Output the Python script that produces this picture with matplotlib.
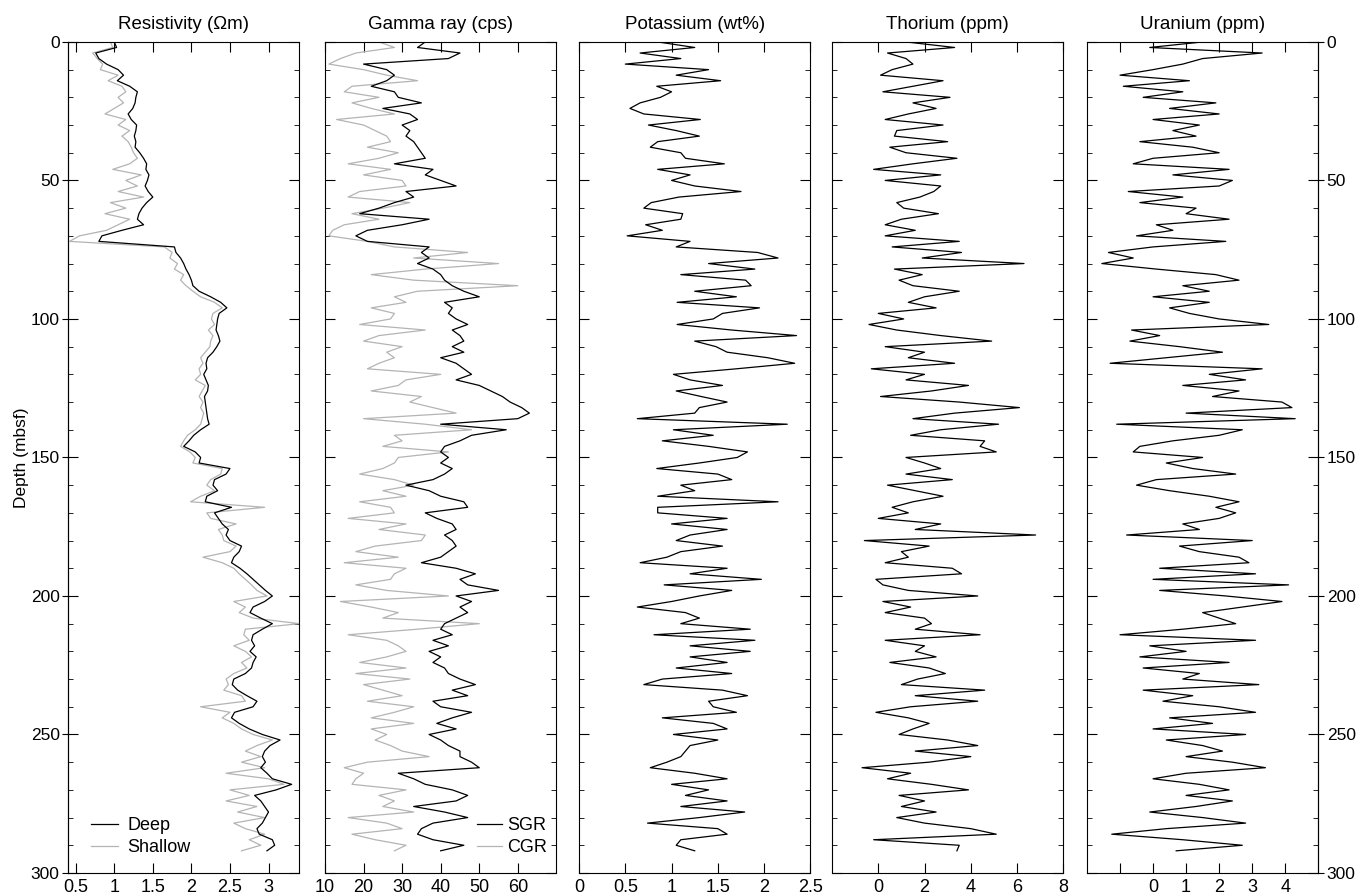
"""
Downhole log panels: resistivity, gamma ray and spectral gamma (K, Th, U)
plotted against depth, one narrow panel per log.
"""

import numpy as np
import matplotlib
matplotlib.use("Agg")
import matplotlib.pyplot as plt
from matplotlib.ticker import MultipleLocator, NullLocator, FixedLocator

plt.rcParams['font.family'] = ['Liberation Sans', 'DejaVu Sans']
plt.rcParams['font.size'] = 13

# Depth grid of the readings (mbsf), one value every 2 m
depth = np.arange(0, 293, 2)

# Resistivity (ohm m)
res_deep = [
    1.00, 1.03, 0.76, 0.80, 0.90, 1.05, 1.12, 1.04, 1.20, 1.30,
    1.28, 1.27, 1.24, 1.18, 1.22, 1.29, 1.28, 1.26, 1.28, 1.27,
    1.33, 1.38, 1.42, 1.41, 1.45, 1.43, 1.40, 1.44, 1.50, 1.42,
    1.36, 1.32, 1.30, 1.38, 1.10, 0.84, 0.80, 1.78, 1.80, 1.86,
    1.90, 1.93, 1.97, 2.00, 2.02, 2.10, 2.25, 2.38, 2.46, 2.36,
    2.34, 2.33, 2.32, 2.35, 2.37, 2.33, 2.28, 2.21, 2.19, 2.20,
    2.16, 2.19, 2.22, 2.21, 2.17, 2.18, 2.19, 2.20, 2.21, 2.23,
    2.12, 2.03, 1.97, 1.90, 2.05, 2.12, 2.10, 2.50, 2.45, 2.30,
    2.28, 2.34, 2.20, 2.18, 2.52, 2.30, 2.35, 2.40, 2.48, 2.45,
    2.50, 2.65, 2.62, 2.55, 2.52, 2.63, 2.72, 2.80, 2.88, 2.96,
    3.05, 2.95, 2.80, 2.76, 2.90, 3.05, 2.92, 2.80, 2.78, 2.82,
    2.76, 2.84, 2.80, 2.78, 2.70, 2.55, 2.53, 2.60, 2.72, 2.85,
    2.80, 2.56, 2.52, 2.62, 2.75, 2.92, 3.15, 3.02, 2.95, 2.92,
    2.96, 2.90, 2.98, 3.05, 3.30, 3.10, 2.82, 2.90, 2.95, 3.00,
    2.96, 2.92, 2.85, 2.88, 3.05, 3.08, 2.98,
]
res_shallow = [
    0.95, 0.98, 0.72, 0.78, 0.85, 0.82, 1.05, 0.92, 1.10, 1.15,
    1.05, 1.12, 1.00, 0.88, 1.15, 1.05, 1.20, 1.10, 1.18, 1.22,
    1.25, 1.30, 1.20, 0.98, 1.35, 1.15, 1.30, 1.05, 1.38, 0.95,
    1.15, 0.88, 1.20, 1.05, 0.90, 0.55, 0.42, 1.65, 1.75, 1.72,
    1.82, 1.78, 1.90, 1.86, 1.93, 2.02, 2.12, 2.30, 2.40, 2.28,
    2.26, 2.30, 2.22, 2.28, 2.25, 2.24, 2.18, 2.12, 2.15, 2.10,
    2.12, 2.05, 2.18, 2.14, 2.10, 2.15, 2.12, 2.16, 2.14, 2.12,
    2.05, 1.95, 1.90, 1.86, 1.98, 2.05, 2.02, 2.40, 2.38, 2.25,
    2.20, 2.30, 2.12, 1.99, 2.95, 2.20, 2.25, 2.58, 2.35, 2.40,
    2.42, 2.58, 2.50, 2.15, 2.40, 2.55, 2.62, 2.70, 2.78, 2.85,
    2.98, 2.55, 2.70, 2.62, 2.80, 3.40, 2.70, 2.68, 2.75, 2.55,
    2.70, 2.78, 2.65, 2.72, 2.55, 2.45, 2.48, 2.42, 2.65, 2.70,
    2.12, 2.50, 2.40, 2.55, 2.65, 2.80, 3.05, 2.85, 2.70, 2.90,
    2.65, 2.95, 2.45, 3.00, 3.20, 2.50, 2.75, 2.45, 2.85, 2.60,
    2.95, 2.55, 2.70, 2.95, 2.75, 2.90, 2.65,
]

# Gamma ray (cps)
sgr = [
    36, 34, 45, 42, 20, 26, 28, 26, 22, 28,
    29, 35, 25, 32, 34, 30, 32, 31, 33, 34,
    35, 36, 28, 38, 36, 40, 44, 31, 33, 28,
    24, 19, 37, 30, 21, 18, 21, 37, 35, 37,
    34, 38, 40, 41, 43, 46, 50, 41, 43, 42,
    44, 47, 43, 45, 46, 43, 46, 40, 44, 46,
    48, 44, 50, 53, 56, 58, 61, 63, 60, 40,
    57, 48, 45, 41, 40, 42, 40, 43, 41, 38,
    31, 37, 40, 46, 47, 36, 39, 43, 44, 41,
    43, 44, 42, 40, 35, 44, 49, 45, 47, 55,
    44, 48, 45, 47, 44, 41, 40, 43, 38, 42,
    37, 40, 38, 41, 42, 45, 49, 43, 47, 38,
    40, 48, 43, 39, 44, 37, 40, 42, 45, 45,
    48, 50, 29, 33, 36, 43, 47, 44, 33, 41,
    47, 38, 35, 34, 38, 46, 40,
]
cgr = [
    24, 28, 18, 14, 11, 20, 26, 34, 17, 15,
    24, 17, 22, 28, 13, 20, 23, 26, 27, 21,
    29, 24, 16, 27, 20, 30, 31, 19, 16, 32,
    25, 17, 24, 15, 12, 11, 21, 28, 47, 33,
    55, 36, 22, 33, 60, 34, 28, 31, 22, 28,
    27, 19, 36, 24, 20, 30, 26, 28, 24, 21,
    40, 31, 29, 22, 35, 32, 38, 44, 20, 36,
    48, 28, 30, 25, 42, 29, 28, 25, 19, 28,
    33, 25, 31, 19, 27, 28, 16, 31, 24, 36,
    35, 23, 18, 29, 15, 31, 28, 27, 18, 26,
    42, 14, 22, 29, 25, 50, 34, 16, 26, 29,
    31, 26, 19, 31, 18, 32, 20, 25, 30, 21,
    33, 28, 22, 33, 22, 26, 23, 27, 30, 37,
    21, 15, 20, 18, 17, 31, 24, 28, 25, 33,
    16, 26, 30, 17, 23, 31, 28,
]

# Potassium (wt%)
potassium = [
    0.85, 1.25, 0.66, 1.10, 0.50, 1.40, 1.05, 1.53, 0.84, 1.00,
    0.88, 0.66, 0.55, 0.70, 1.31, 0.75, 1.05, 1.30, 0.85, 0.77,
    1.10, 1.15, 1.57, 0.85, 1.20, 1.00, 1.25, 1.75, 1.08, 0.78,
    0.70, 1.12, 1.10, 0.72, 0.90, 0.52, 1.20, 1.05, 1.93, 2.15,
    1.40, 1.90, 1.10, 1.80, 1.86, 1.25, 1.70, 1.06, 1.95, 1.55,
    1.45, 1.06, 1.65, 2.35, 1.25, 1.48, 1.60, 2.04, 2.33, 1.70,
    1.02, 1.20, 1.55, 1.05, 1.32, 1.60, 1.30, 1.25, 0.63, 2.25,
    1.02, 1.45, 0.90, 1.40, 1.82, 1.71, 1.30, 0.84, 1.50, 1.65,
    1.10, 1.25, 0.85, 2.15, 0.85, 0.85, 1.60, 1.00, 1.60, 1.20,
    1.05, 1.55, 1.10, 0.95, 0.66, 1.60, 1.20, 1.97, 0.92, 1.65,
    1.30, 1.00, 0.63, 1.15, 1.30, 1.10, 1.85, 0.81, 1.90, 1.20,
    1.85, 1.20, 1.60, 1.05, 1.65, 0.90, 0.70, 1.55, 1.82, 1.40,
    1.45, 1.70, 0.90, 1.45, 1.60, 1.02, 1.50, 1.20, 1.15, 1.10,
    0.95, 0.77, 1.25, 1.60, 1.00, 1.40, 1.15, 1.60, 1.10, 1.79,
    1.30, 0.74, 1.50, 1.60, 1.10, 1.05, 1.25,
]

# Thorium (ppm)
thorium = [
    1.2, 3.3, 0.4, 1.2, 1.5, 0.6, 0.1, 2.8, 1.5, 0.2,
    3.1, 1.5, 2.5, 1.3, 0.3, 2.8, 0.8, 0.7, 3.0, 0.5,
    1.2, 3.4, 1.5, -0.2, 2.7, 0.3, 2.7, 2.4, 1.8, 0.8,
    1.1, 2.6, 1.0, 0.3, 1.6, 0.3, 3.5, 0.6, 3.6, 1.9,
    6.3, 0.7, 1.9, 0.9, 1.5, 3.5, 2.0, 1.3, 2.5, 0.0,
    1.1, -0.4, 0.8, 2.7, 4.9, 0.3, 2.0, 1.3, 3.3, -0.3,
    2.0, 1.2, 3.9, 2.3, 0.1, 3.5, 6.1, 3.3, 1.5, 5.2,
    2.7, 1.4, 4.6, 4.4, 5.1, 1.2, 2.0, 2.7, 1.2, 3.2,
    0.4, 1.6, 2.8, 1.5, 0.6, 1.3, 0.0, 2.7, 1.6, 6.8,
    -0.6, 2.2, 1.0, 1.3, 0.3, 3.2, 3.6, -0.1, 0.2, 1.3,
    4.3, 0.2, 1.4, 0.3, 2.0, 2.3, 1.6, 4.4, 0.3, 2.0,
    1.6, 2.5, 0.5, 2.2, 2.9, 1.7, 1.0, 4.6, 1.6, 4.3,
    1.4, -0.1, 1.3, 2.2, 1.5, 0.9, 3.0, 4.3, 1.6, 4.0,
    2.2, -0.7, 1.4, 0.4, 2.3, 3.9, 0.9, 2.0, 1.0, 2.5,
    0.8, 2.0, 4.0, 5.1, -0.2, 3.5, 3.4,
]

# Uranium (ppm)
uranium = [
    1.5, -0.1, 3.3, 1.5, 0.9, 0.0, -1.0, 1.1, -0.9, 0.9,
    -0.3, 1.9, 0.5, 2.0, 0.0, 1.4, 0.6, 1.3, -0.4, 1.2,
    2.0, 0.0, -0.6, 2.3, 0.6, 2.4, 2.0, -0.75, 0.9, -0.4,
    1.3, 1.0, 2.3, 0.1, 0.6, -0.5, 2.2, 0.0, -1.35, -0.6,
    -1.55, 0.1, 1.9, 2.6, 0.9, 1.7, 0.0, 1.7, 0.5, 1.1,
    2.0, 3.5, -0.65, 0.2, -0.7, 0.8, 2.1, 0.4, -1.3, 3.3,
    1.7, 2.8, 0.9, 2.6, 1.8, 3.9, 4.2, 1.0, 4.3, -1.1,
    2.7, 2.0, 0.6, -0.4, -0.6, 1.5, 0.4, 1.2, 2.5, 0.1,
    -0.5, 0.5, 1.7, 2.6, 1.9, 2.5, 2.0, 0.9, 1.4, -0.8,
    3.0, 0.8, 1.4, 2.6, 2.9, 0.2, 3.1, 0.0, 4.1, 0.2,
    2.2, 3.9, 2.7, 1.5, 2.0, 2.5, 0.9, -1.0, 3.1, -0.1,
    1.0, -0.4, 2.3, -0.3, 1.4, 0.9, 3.2, -0.3, 1.2, 0.3,
    2.0, 3.1, 0.5, 1.8, 0.0, 2.8, 0.4, 1.5, 2.1, 1.0,
    2.4, 3.4, 1.0, 0.0, 1.4, 2.3, 1.0, 2.4, 1.3, -0.1,
    1.5, 2.8, 0.4, -1.25, 0.9, 2.7, 0.7,
]

# Titles, x ranges and x ticks of each panel
titles = ["Resistivity (Ωm)", "Gamma ray (cps)", "Potassium (wt%)",
          "Thorium (ppm)", "Uranium (ppm)"]
xlims = [(0.4, 3.4), (10, 70), (0, 2.5), (-2, 8), (-2, 5)]
xticks = [[0.5, 1, 1.5, 2, 2.5, 3], [10, 20, 30, 40, 50, 60],
          [0, 0.5, 1, 1.5, 2, 2.5], [0, 2, 4, 6, 8], [-1, 0, 1, 2, 3, 4]]
xticklabels = [["0.5", "1", "1.5", "2", "2.5", "3"],
               ["10", "20", "30", "40", "50", "60"],
               ["0", "0.5", "1", "1.5", "2", "2.5"],
               ["0", "2", "4", "6", "8"],
               ["", "0", "1", "2", "3", "4"]]
depth_ticks = [0, 50, 100, 150, 200, 250, 300]

GREY = "#b4b4b4"
LW = 0.9

fig = plt.figure(figsize=(13.57, 8.96), dpi=100)

lefts = [0.0501, 0.2395, 0.4267, 0.6131, 0.8010]
width = 0.1705
bottom, height = 0.0257, 0.9275

axes = []
for i, left in enumerate(lefts):
    ax = fig.add_axes([left, bottom, width, height])
    ax.set_xlim(*xlims[i])
    ax.set_ylim(300, 0)
    ax.set_xticks(xticks[i])
    ax.set_xticklabels(xticklabels[i])
    ax.yaxis.set_major_locator(MultipleLocator(50))
    ax.yaxis.set_minor_locator(MultipleLocator(10))
    ax.xaxis.set_minor_locator(NullLocator())
    ax.tick_params(axis='x', which='major', direction='in', length=7,
                   top=True, bottom=True, labelsize=13, pad=4)
    ax.tick_params(axis='y', which='major', direction='in', length=7,
                   left=True, right=True, labelleft=False)
    ax.tick_params(axis='y', which='minor', direction='in', length=3.5,
                   left=True, right=True)
    ax.set_title(titles[i], fontsize=13.5, pad=9)
    axes.append(ax)

ax1, ax2, ax3, ax4, ax5 = axes

# Resistivity
l_sh, = ax1.plot(res_shallow, depth, color=GREY, lw=LW)
l_dp, = ax1.plot(res_deep, depth, color="black", lw=LW)
ax1.legend([l_dp, l_sh], ["Deep", "Shallow"], loc="lower left",
           bbox_to_anchor=(0.10, 0.02), frameon=False, borderpad=0,
           borderaxespad=0, handlelength=1.5, handletextpad=0.5,
           labelspacing=0.3, fontsize=13)

# Gamma ray
l_c, = ax2.plot(cgr, depth, color=GREY, lw=LW)
l_s, = ax2.plot(sgr, depth, color="black", lw=LW)
ax2.legend([l_s, l_c], ["SGR", "CGR"], loc="lower left",
           bbox_to_anchor=(0.655, 0.02), frameon=False, borderpad=0,
           borderaxespad=0, handlelength=1.4, handletextpad=0.3,
           labelspacing=0.3, fontsize=13)

# Spectral gamma
ax3.plot(potassium, depth, color="black", lw=LW)
ax4.plot(thorium, depth, color="black", lw=LW)
ax5.plot(uranium, depth, color="black", lw=LW)

# Depth labels on the outer sides, ticks crossing the frame
for ax, side in [(ax1, 'left'), (ax5, 'right')]:
    sec = ax.secondary_yaxis(side)
    sec.yaxis.set_major_locator(FixedLocator(depth_ticks))
    sec.yaxis.set_minor_locator(NullLocator())
    sec.tick_params(axis='y', direction='out', length=4.5, pad=1.5,
                    labelsize=12.5)
    if side == 'left':
        sec.set_ylabel("Depth (mbsf)", fontsize=12.5, labelpad=1)

fig.savefig("out.png", dpi=100)
